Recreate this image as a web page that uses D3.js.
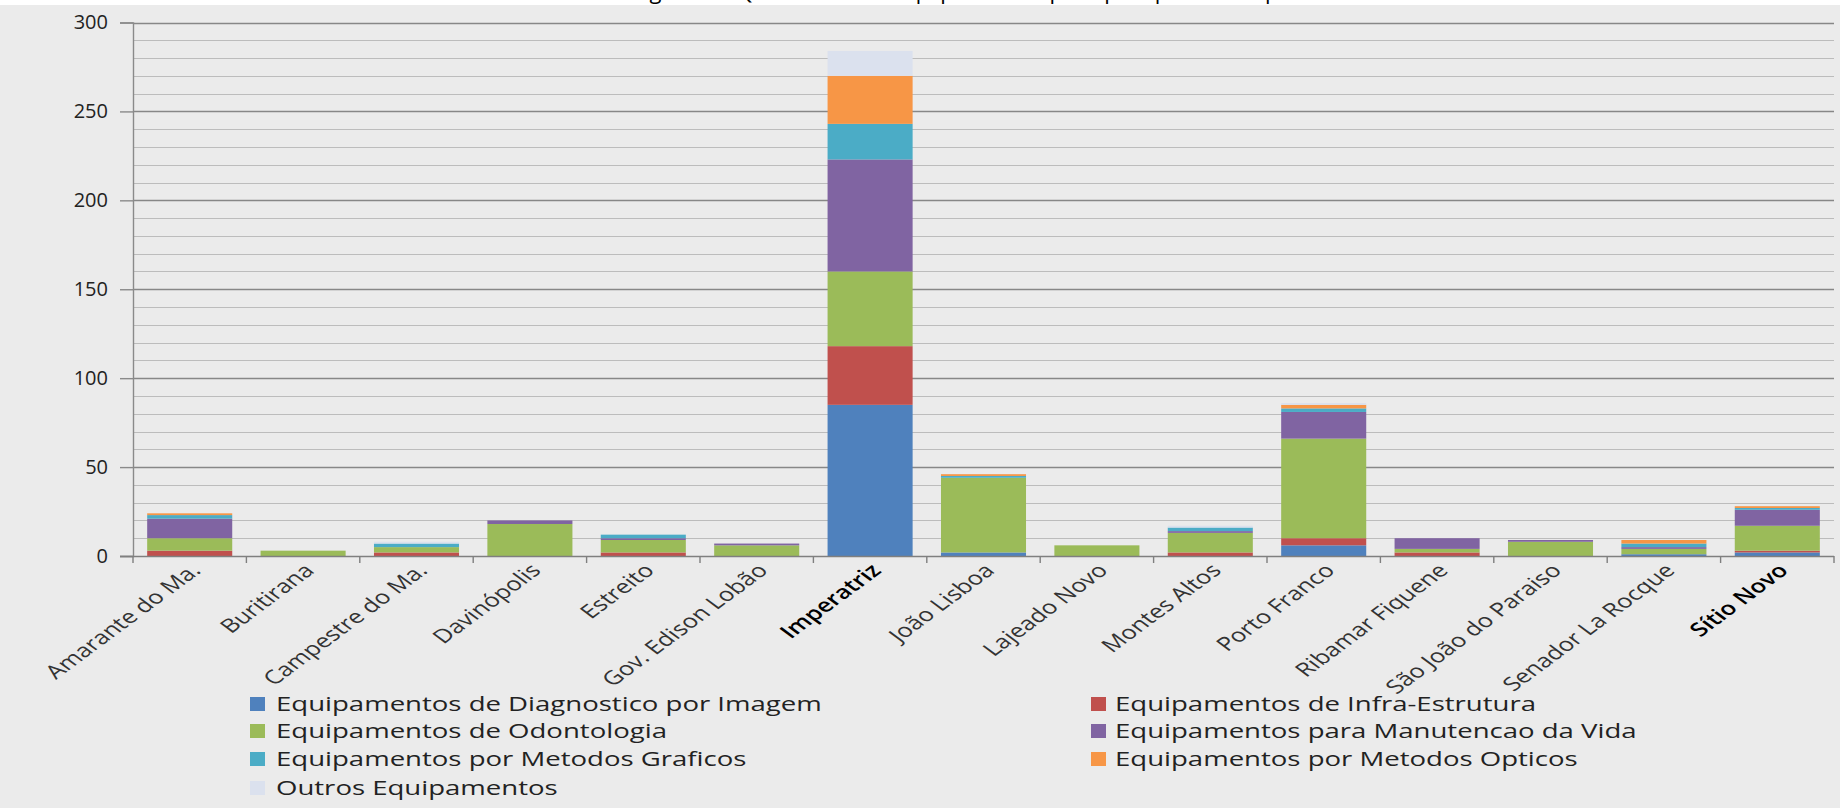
<!DOCTYPE html>
<html>
<head>
<meta charset="utf-8">
<script src="https://cdn.jsdelivr.net/npm/d3@7/dist/d3.min.js"></script>
<style>
  html, body { margin: 0; padding: 0; background: #ebebeb; }
  svg { display: block; }
  text { font-family: "Open Sans", "Noto Sans", sans-serif; }
</style>
</head>
<body>
<svg id="chart" width="1840" height="808"></svg>
<script>
// ---- data ----
const categories = ["Amarante do Ma.", "Buritirana", "Campestre do Ma.", "Davinópolis", "Estreito",
  "Gov. Edison Lobão", "Imperatriz", "João Lisboa", "Lajeado Novo", "Montes Altos", "Porto Franco",
  "Ribamar Fiquene", "São João do Paraiso", "Senador La Rocque", "Sítio Novo"];
const seriesNames = ["Equipamentos de Diagnostico por Imagem", "Equipamentos de Infra-Estrutura",
  "Equipamentos de Odontologia", "Equipamentos para Manutencao da Vida",
  "Equipamentos por Metodos Graficos", "Equipamentos por Metodos Opticos", "Outros Equipamentos"];
const diagnostico = [0, 0, 0, 0, 0, 0, 85, 2, 0, 0, 6, 0, 0, 1, 2];
const infra       = [3, 0, 2, 0, 2, 0, 33, 0, 0, 2, 4, 2, 0, 0, 1];
const odontologia = [7, 3, 3, 18, 7, 6, 42, 42, 6, 11, 56, 2, 8, 3, 14];
const manutencao  = [11, 0, 0, 2, 1, 1, 63, 0, 0, 1, 15, 6, 1, 1, 9];
const graficos    = [2, 0, 2, 0, 2, 0, 20, 1, 0, 2, 2, 0, 0, 2, 1];
const opticos     = [1, 0, 0, 0, 0, 0, 27, 1, 0, 0, 2, 0, 0, 2, 1];
const outros      = [0, 0, 1, 0, 0, 0, 14, 0, 0, 1, 1, 0, 0, 0, 0];
const yTicks = [0, 50, 100, 150, 200, 250, 300];
const titleText = "Figura 3 – Quantidade de equipamentos por tipo e por município";
const boldLabels = ["Imperatriz", "Sítio Novo"];

const colors = ["#4f81bd", "#c0504d", "#9bbb59", "#8064a2", "#4bacc6", "#f79646", "#dbe1ee"];
const seriesValues = [diagnostico, infra, odontologia, manutencao, graficos, opticos, outros];

// ---- layout ----
const svg = d3.select("#chart");
const W = 1840, H = 808;
const plot = { left: 133, right: 1834, top: 22.5, bottom: 556 };

svg.append("rect").attr("x", 0).attr("y", 0).attr("width", W).attr("height", H).attr("fill", "#ebebeb");
svg.append("rect").attr("x", 0).attr("y", 0).attr("width", W).attr("height", 5).attr("fill", "#ffffff");
// title (cut off at the top of the picture, as in the source image)
svg.append("text").attr("x", 965).attr("y", -1).attr("text-anchor", "middle")
  .attr("font-size", 22).attr("fill", "#000").text(titleText);

const x = d3.scaleBand().domain(categories).range([plot.left, plot.right])
  .paddingInner(0.25).paddingOuter(0.125);
const y = d3.scaleLinear().domain([0, 300]).range([plot.bottom, plot.top]);

// gridlines
const minor = d3.range(10, 301, 10).filter(v => v % 50 !== 0);
svg.append("g").selectAll("line").data(minor).join("line")
  .attr("x1", plot.left).attr("x2", plot.right)
  .attr("y1", d => Math.round(y(d)) + 0.5).attr("y2", d => Math.round(y(d)) + 0.5)
  .attr("stroke", "#bcbcbc").attr("stroke-width", 1.2);
svg.append("g").selectAll("line").data(yTicks.filter(v => v > 0)).join("line")
  .attr("x1", plot.left).attr("x2", plot.right)
  .attr("y1", d => Math.round(y(d)) + 0.5).attr("y2", d => Math.round(y(d)) + 0.5)
  .attr("stroke", "#878787").attr("stroke-width", 1.6);

// stacked bars
const table = categories.map((c, i) => {
  const o = { cat: c };
  seriesNames.forEach((s, k) => { o[s] = seriesValues[k][i]; });
  return o;
});
const stack = d3.stack().keys(seriesNames)(table);
svg.append("g").selectAll("g").data(stack).join("g")
  .attr("fill", (d, k) => colors[k])
  .selectAll("rect").data(d => d).join("rect")
  .attr("x", d => x(d.data.cat))
  .attr("width", x.bandwidth())
  .attr("y", d => y(d[1]))
  .attr("height", d => y(d[0]) - y(d[1]));

// y axis
const yAxis = svg.append("g").attr("transform", `translate(${plot.left},0)`)
  .call(d3.axisLeft(y).tickValues(yTicks).tickSize(13).tickPadding(12));
yAxis.select(".domain").attr("stroke", "#8a8a8a").attr("stroke-width", 1.4);
yAxis.selectAll(".tick line").attr("stroke", "#8a8a8a").attr("stroke-width", 1.4);
yAxis.selectAll(".tick text").attr("font-size", 20).attr("fill", "#222")
  .attr("font-family", "'Open Sans', sans-serif");

// x axis line + ticks at band boundaries
svg.append("line").attr("x1", plot.left - 13).attr("x2", plot.right)
  .attr("y1", plot.bottom + 0.5).attr("y2", plot.bottom + 0.5)
  .attr("stroke", "#7f7f7f").attr("stroke-width", 1.6);
const step = x.step();
const boundaries = d3.range(0, categories.length + 1).map(i => plot.left + i * step);
svg.append("g").selectAll("line").data(boundaries).join("line")
  .attr("x1", d => d).attr("x2", d => d)
  .attr("y1", plot.bottom).attr("y2", plot.bottom + 7)
  .attr("stroke", "#7f7f7f").attr("stroke-width", 1.4);

// x labels, rotated
const sxLab = 1.35;
svg.append("g").selectAll("text").data(categories).join("text")
  .attr("transform", d => `translate(${x(d) + x.bandwidth() / 2 + 6},${plot.bottom + 11}) scale(${sxLab},1) rotate(-45)`)
  .attr("text-anchor", "end")
  .attr("dy", "0.35em")
  .attr("font-size", 19)
  .attr("font-weight", d => boldLabels.includes(d) ? 600 : 400)
  .attr("fill", d => boldLabels.includes(d) ? "#000" : "#333")
  .text(d => d);

// legend
const legendPos = [
  { cx: 250, tx: 276, y: 704 }, { cx: 1091, tx: 1115, y: 704 },
  { cx: 250, tx: 276, y: 731 }, { cx: 1091, tx: 1115, y: 731 },
  { cx: 250, tx: 276, y: 759 }, { cx: 1091, tx: 1115, y: 759 },
  { cx: 250, tx: 276, y: 788 }
];
const lg = svg.append("g");
const probe = lg.append("text").attr("font-size", 20).text(seriesNames[0]);
const natural = probe.node().getComputedTextLength();
probe.remove();
const sxLeg = 546 / natural;
seriesNames.forEach((s, k) => {
  const p = legendPos[k];
  lg.append("rect").attr("x", p.cx).attr("y", p.y - 7).attr("width", 15).attr("height", 14)
    .attr("fill", colors[k]);
  lg.append("text")
    .attr("transform", `translate(${p.tx},${p.y}) scale(${sxLeg},1)`)
    .attr("dy", "0.35em").attr("font-size", 20).attr("fill", "#222").text(s);
});
</script>
</body>
</html>
